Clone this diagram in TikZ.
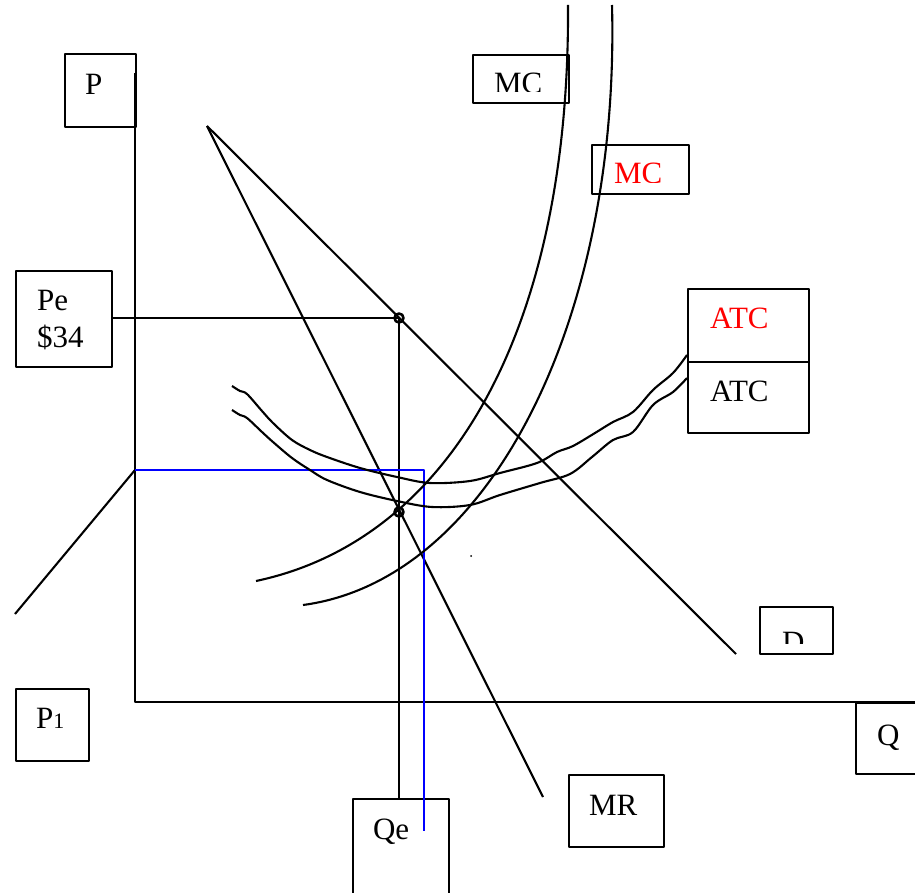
\documentclass[tikz,border=0pt]{standalone}
\usepackage{fontspec}
\setmainfont{Liberation Serif}
\definecolor{pureblue}{RGB}{0,0,255}
\definecolor{purered}{RGB}{255,0,0}
\begin{document}
\begin{tikzpicture}[x=1pt,y=-1pt,line width=2.1pt,line join=round,
  box/.style={draw,line width=2.1pt,inner sep=0pt,anchor=north west},
  lbl/.style={inner sep=0pt,anchor=base west,font=\fontsize{31}{35}\selectfont},
  dotmark/.style={draw,circle,line width=2.6pt,minimum size=9pt,inner sep=0pt},
  curve/.style={line width=2.1pt,smooth,tension=0.55}]
\useasboundingbox (0,0) rectangle (915,893);
\clip (0,0) rectangle (915,893);

% key points
\coordinate (top) at (207,126);
\coordinate (origin) at (135,702);
\coordinate (ytop) at (135,73);
\coordinate (xend) at (915,702);
\coordinate (p1pt) at (135,470);
\coordinate (p1end) at (15,614);
\coordinate (dend) at (736,654);
\coordinate (mrend) at (543,797);
\coordinate (bluecorner) at (424,470);
\coordinate (blueend) at (424,831);
\coordinate (mcAlo) at (256,581);
\coordinate (mcAhi) at (568,5);
\coordinate (mcBlo) at (303,605);
\coordinate (mcBhi) at (612,5);

% boxes
\node[box,minimum width=71pt,minimum height=73pt] (Pbox) at (64,53) {};
\node[box,minimum width=96pt,minimum height=48pt] (MCbox) at (472,54) {};
\node[box,minimum width=97pt,minimum height=49pt] (MCrbox) at (591,144) {};
\node[box,minimum width=96pt,minimum height=96pt] (Pebox) at (15,270) {};
\node[box,minimum width=121pt,minimum height=73pt] (ATCrbox) at (687,288) {};
\node[box,minimum width=121pt,minimum height=71pt] (ATCbox) at (687,361) {};
\node[box,minimum width=73pt,minimum height=47pt] (Dbox) at (759,606) {};
\node[box,minimum width=73pt,minimum height=72pt] (P1box) at (15,688) {};
\node[box,minimum width=70pt,minimum height=71pt] (Qbox) at (855,702) {};
\node[box,minimum width=95pt,minimum height=72pt] (MRbox) at (568,774) {};
\node[box,minimum width=96pt,minimum height=120pt] (Qebox) at (352,798) {};

% labels
\node[lbl] (Pt) at (84,95) {P};
\begin{scope}
  \clip (472,54) rectangle (568,92);
  \node[lbl] (MCt) at (493,93.5) {MC};
\end{scope}
\begin{scope}
  \clip (591,144) rectangle (688,182.5);
  \node[lbl,text=purered] (MCrt) at (613,184) {MC};
\end{scope}
\begin{scope}
  \clip (759,606) rectangle (832,643.5);
  \node[lbl] (Dt) at (781,652) {D};
\end{scope}
\node[lbl] (Pet) at (36,310) {Pe};
\node[lbl] (P34t) at (36,347) {\$34};
\node[lbl,text=purered] (ATCrt) at (709,328) {ATC};
\node[lbl] (ATCt) at (709,401) {ATC};
\node[lbl] (P1t) at (35,728) {P{\fontsize{22}{24}\selectfont 1}};
\node[lbl] (Qt) at (876,745) {Q};
\node[lbl] (MRt) at (588,815) {MR};
\node[lbl] (Qet) at (372,839) {Qe};

% axes
\draw (ytop) -- (origin) -- (xend);
\draw (p1pt) -- (p1end);

% demand and MR
\draw (top) -- (dend);
\draw (top) -- (mrend);

% Pe guide and Qe guide
\draw (Pebox.east |- 0,318) -- (399,318);
\draw (399,318) -- (Qebox.north -| 399,0);

% blue guide
\draw[pureblue] (p1pt) -- (bluecorner) -- (blueend);

% MC curves
\draw (mcAlo) .. controls (450,540) and (570,330) .. (mcAhi);
\draw (mcBlo) .. controls (490,580) and (620,320) .. (mcBhi);

% ATC curves (wavy)
\draw[curve] plot coordinates {(232,386) (240,391) (247,394) (262,411) (273,423) (292,440) (310,450) (327,457) (360,468) (397,477) (430,483) (470,481) (500,473) (537,463) (557,452) (573,446) (595,433) (613,422) (633,412) (653,390) (673,373) (687,355)};
\draw[curve] plot coordinates {(232,410) (240,415) (247,418) (262,432) (273,442) (292,458) (310,470) (327,480) (360,492) (397,501) (432,507) (470,505) (500,495) (540,483) (570,474) (592,457) (613,440) (633,432) (653,405) (673,392) (687,378)};

% dots
\node[dotmark] (E1) at (399,318) {};
\node[dotmark] (E2) at (399,512) {};
\fill (471,556) circle (1pt);
\end{tikzpicture}
\end{document}
